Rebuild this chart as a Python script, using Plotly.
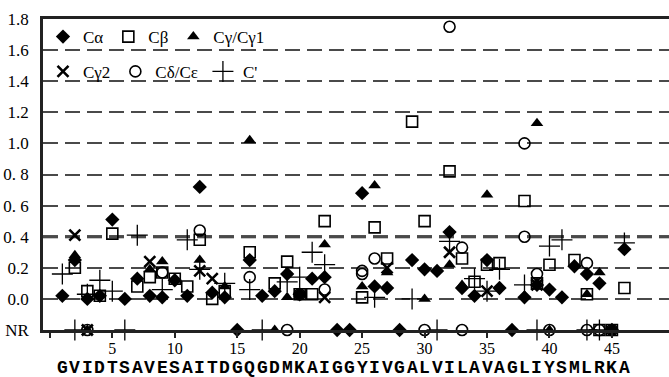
import plotly.graph_objects as go

NR = "NR"
NR_LEVEL = -0.2

SEQUENCE = list("GVIDTSAVESAITDGQGDMKAIGGYIVGALVILAVAGLIYSMLRKA")

CA_RES = [1, 2, 3, 4, 5, 6, 7, 8, 9, 10, 11, 12, 13, 14, 15, 16, 17, 18, 19, 20, 21, 22, 23,
          24, 25, 26, 27, 28, 29, 30, 31, 32, 33, 34, 35, 36, 37, 38, 39, 40, 41, 42, 43, 44, 45, 46]
CA_VAL = [0.02, 0.25, 0.00, 0.02, 0.51, 0.00, 0.13, 0.02, 0.01, 0.12, 0.02, 0.72, 0.04, 0.01, NR,
          0.25, 0.02, 0.05, 0.16, 0.03, 0.13, 0.14, NR, NR, 0.68, 0.08, 0.07, NR, 0.25, 0.19, 0.18,
          0.43, 0.07, 0.02, 0.25, 0.07, NR, 0.01, 0.09, 0.06, 0.01, 0.21, 0.16, 0.10, NR, 0.32]

CB_RES = [2, 3, 4, 5, 7, 8, 9, 10, 11, 12, 13, 14, 16, 18, 19, 20, 21, 22, 25, 26, 27, 29, 30,
          32, 33, 34, 35, 36, 38, 39, 40, 42, 43, 44, 45, 46]
CB_VAL = [0.20, 0.05, 0.02, 0.42, 0.08, 0.14, 0.17, 0.13, 0.08, 0.38, 0.00, 0.05, 0.30, 0.10, 0.24,
          0.03, 0.03, 0.50, 0.01, 0.46, 0.26, 1.14, 0.50, 0.82, 0.26, 0.11, 0.22, 0.23, 0.63, 0.10,
          0.22, 0.25, 0.03, NR, NR, 0.07]

CG_RES = [2, 3, 8, 9, 12, 14, 16, 18, 19, 20, 22, 25, 26, 27, 30, 32, 33, 35, 38, 39, 40, 43, 44, 45]
CG_VAL = [0.28, NR, 0.19, 0.24, 0.25, 0.08, 1.02, NR, 0.01, 0.03, 0.35, 0.08, 0.73, 0.17, 0.00,
          0.22, 0.09, 0.67, 0.02, 1.13, NR, 0.03, 0.17, NR]

CG2_RES = [2, 3, 8, 12, 13, 22, 27, 32, 35, 39]
CG2_VAL = [0.41, NR, 0.24, 0.18, 0.13, 0.01, 0.20, 0.30, 0.05, 0.09]

CD_RES = [3, 9, 12, 16, 19, 20, 22, 25, 25, 26, 30, 32, 33, 33, 38, 38, 39, 40, 43, 43, 44, 45]
CD_VAL = [NR, 0.17, 0.44, 0.14, NR, 0.03, 0.06, 0.18, 0.16, 0.26, NR, 1.75, 0.33, NR, 1.00, 0.40,
          0.16, NR, 0.23, NR, NR, NR]

CP_RES = [1, 2, 3, 4, 5, 6, 7, 9, 11, 12, 14, 16, 17, 19, 20, 21, 22, 26, 29, 31, 32, 34, 35, 36,
          38, 39, 40, 41, 43, 44, 46]
CP_VAL = [0.16, NR, 0.03, 0.12, 0.05, NR, 0.41, 0.06, 0.38, 0.19, 0.10, 0.06, NR, 0.11, 0.14, 0.30,
          0.22, 0.01, 0.00, NR, 0.37, 0.13, 0.05, 0.19, 0.09, NR, 0.34, 0.38, NR, NR, 0.36]

Y_TICKS = [-0.2, 0.0, 0.2, 0.4, 0.6, 0.8, 1.0, 1.2, 1.4, 1.6, 1.8]
Y_TICK_TEXT = ["NR", "0.0", "0.2", "0. 4", "0. 6", "0. 8", "1.0", "1.2", "1.4", "1.6", "1.8"]
X_TICKS = [0, 5, 10, 15, 20, 25, 30, 35, 40, 45]
X_TICK_TEXT = ["", "5", "10", "15", "20", "25", "30", "35", "40", "45"]


def to_y(vals):
    return [NR_LEVEL if v == NR else v for v in vals]


SERIF = "Liberation Serif"
MONO = "Liberation Mono"

series = [
    ("Cα", CA_RES, CA_VAL, dict(symbol="diamond", size=11, color="black"), "legend"),
    ("Cβ", CB_RES, CB_VAL, dict(symbol="square-open", size=11, color="black",
                               line=dict(width=1.6, color="black")), "legend"),
    ("Cγ/Cγ1", CG_RES, CG_VAL, dict(symbol="triangle-up", size=11, color="black"), "legend"),
    ("Cγ2", CG2_RES, CG2_VAL, dict(symbol="x-thin", size=11, color="black",
                                  line=dict(width=2.6, color="black")), "legend2"),
    ("Cδ/Cε", CD_RES, CD_VAL, dict(symbol="circle-open", size=11, color="black",
                                  line=dict(width=1.6, color="black")), "legend2"),
    ("C'", CP_RES, CP_VAL, dict(symbol="cross-thin", size=15, color="black",
                               line=dict(width=1.3, color="black")), "legend2"),
]

fig = go.Figure()
for name, res, vals, marker, leg in series:
    fig.add_trace(go.Scatter(x=res, y=to_y(vals), mode="markers", name=name,
                             marker=marker, legend=leg, cliponaxis=False))

annotations = []
for i, letter in enumerate(SEQUENCE, start=1):
    annotations.append(dict(x=i, y=-0.122, xref="x", yref="paper", text=letter,
                            showarrow=False, xanchor="center", yanchor="middle",
                            font=dict(family=MONO, size=18, color="black", weight="bold")))

fig.update_layout(
    width=669, height=377,
    margin=dict(l=43, r=0, t=19, b=47),
    paper_bgcolor="white", plot_bgcolor="white",
    showlegend=True,
    legend=dict(x=0.0, y=0.942, xanchor="left", yanchor="middle", orientation="h",
                bgcolor="rgba(0,0,0,0)", font=dict(family=SERIF, size=17, color="black"),
                itemwidth=30, itemclick=False),
    legend2=dict(x=0.0, y=0.83, xanchor="left", yanchor="middle", orientation="h",
                 bgcolor="rgba(0,0,0,0)", font=dict(family=SERIF, size=17, color="black"),
                 itemwidth=30, itemclick=False),
    xaxis=dict(range=[-0.55, 49.57], tickvals=X_TICKS, ticktext=X_TICK_TEXT,
               showgrid=False, zeroline=False, showline=True, linecolor="#222",
               linewidth=2.5, mirror=True, ticks="outside", ticklen=5, tickwidth=2,
               tickcolor="#222", ticklabelstandoff=-3,
               tickfont=dict(family=SERIF, size=16, color="black")),
    yaxis=dict(range=[-0.2, 1.8], tickvals=Y_TICKS, ticktext=Y_TICK_TEXT,
               showgrid=True, gridcolor="#4a4a4a", gridwidth=2, griddash="15px,7px",
               zeroline=False, showline=True, linecolor="#222", linewidth=2.5,
               ticks="", ticklabelstandoff=8,
               tickfont=dict(family=SERIF, size=17, color="black")),
    annotations=annotations,
    shapes=[
        dict(type="rect", xref="paper", yref="y", x0=0.003, x1=0.35, y0=1.3, y1=1.79,
             fillcolor="white", line=dict(width=0), layer="between"),
        dict(type="line", xref="paper", yref="y", x0=0, x1=1, y0=0.4, y1=0.4,
             line=dict(color="#1a1a1a", width=3, dash="15px,7px"), layer="between"),
    ],
)

fig.write_html("out.html")
